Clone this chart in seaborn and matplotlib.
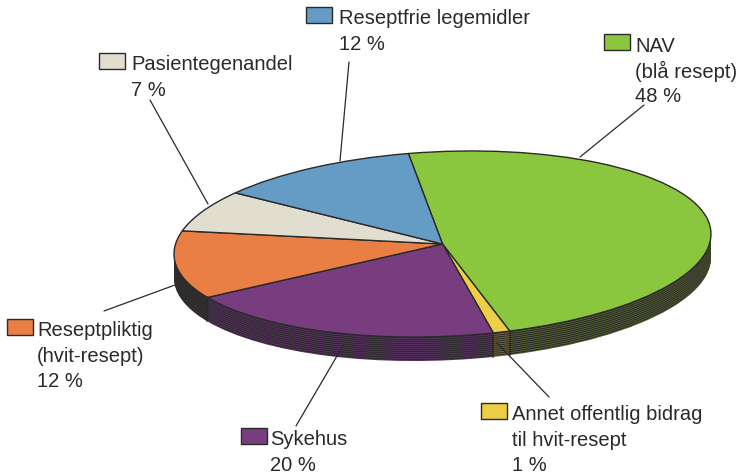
import numpy as np
import matplotlib
matplotlib.use("Agg")
import matplotlib.pyplot as plt
from matplotlib.patches import Rectangle
from matplotlib.transforms import Affine2D
import seaborn as sns

# slices as they are drawn (clockwise from the start angle)
categories = ["NAV", "Annet", "Sykehus", "Reseptpliktig", "Pasientegenandel", "Reseptfrie"]
shares = [48, 1, 20, 12, 7, 12]
colors = ["#8BC63F", "#EBCF45", "#773D7F", "#E97F45", "#E2DECF", "#659CC6"]
side_colors = ["#525E30", "#75672F", "#573160", "#353231", "#353231", "#353231"]

label_lines = [
    ["NAV", "(blå resept)", "48 %"],
    ["Annet offentlig bidrag", "til hvit-resept", "1 %"],
    ["Sykehus", "20 %"],
    ["Reseptpliktig", "(hvit-resept)", "12 %"],
    ["Pasientegenandel", "7 %"],
    ["Reseptfrie legemidler", "12 %"],
]
# swatch left/top and text left, in picture pixels
label_pos = [(604, 35, 635), (481, 404, 512), (241, 429, 270),
             (7, 320, 37), (99, 54, 131), (306, 8, 339)]
leaders = [((644, 106), (580, 158)), ((549, 398), (497, 344)), ((296, 427), (344, 345)),
           ((104, 312), (175, 286)), ((150, 101), (208, 205)), ((349, 63), (340, 162))]

sns.set_style("white")
plt.rcParams["font.family"] = ["Liberation Sans", "DejaVu Sans"]

W, H = 740, 477
CX, CY, RX, RY, DEPTH = 442.5, 245, 268.5, 92.5, 24
START = 97.3
TILT = 0.108  # the ellipse leans up to the right
DARK = "#2B2A2A"

fig = plt.figure(figsize=(W / 100, H / 100), dpi=100)

# the pie axes: unit circle squashed to an ellipse
ax = fig.add_axes([0, 0, 1, 1])
ax.set_xlim(-CX / RX, (W - CX) / RX)
ax.set_ylim((CY - H) / RY, CY / RY)
pie_kw = dict(startangle=START, counterclock=False, radius=1.0, frame=True)
dy = 1 / RY
lean = Affine2D(np.array([[1, 0, 0], [TILT, 1, 0], [0, 0, 1]]))


def draw_layer(layer_colors, offset, wedgeprops):
    wedges, _ = ax.pie(shares, colors=layer_colors, center=(0, offset),
                       wedgeprops=wedgeprops, **pie_kw)
    for w in wedges:
        w.set_transform(lean + ax.transData)


for k in range(DEPTH, 0, -1):
    layer = sns.color_palette(side_colors) if k % 2 == 0 else [DARK] * len(shares)
    draw_layer(layer, -k * dy, {"linewidth": 0})
draw_layer(sns.color_palette(colors), 0, {"linewidth": 1.0, "edgecolor": DARK})

ax.set_aspect("auto")
ax.set_xlim(-CX / RX, (W - CX) / RX)
ax.set_ylim((CY - H) / RY, CY / RY)
ax.axis("off")

# vertical edges on the visible side
angles = START - np.cumsum(shares) * 3.6
for a in np.radians(angles):
    x, y = np.cos(a), np.sin(a) + TILT * np.cos(a)
    if np.sin(a) < 0:
        ax.plot([x, x], [y, y - DEPTH * dy], color=DARK, lw=1.2)

# overlay in picture pixels for the labels
over = fig.add_axes([0, 0, 1, 1])
over.set_xlim(0, W)
over.set_ylim(H, 0)
over.axis("off")

for (a, b) in leaders:
    over.plot([a[0], b[0]], [a[1], b[1]], color=DARK, lw=0.9)

for lines, (sx, sy, tx), col in zip(label_lines, label_pos, colors):
    over.add_patch(Rectangle((sx, sy), 26, 16, facecolor=col, edgecolor=DARK, lw=1))
    for i, line in enumerate(lines):
        over.text(tx, sy + 11 + i * 25.5, line, fontsize=14.5, color="#2A2A2A",
                  ha="left", va="center")

fig.savefig("out.png", dpi=100)
